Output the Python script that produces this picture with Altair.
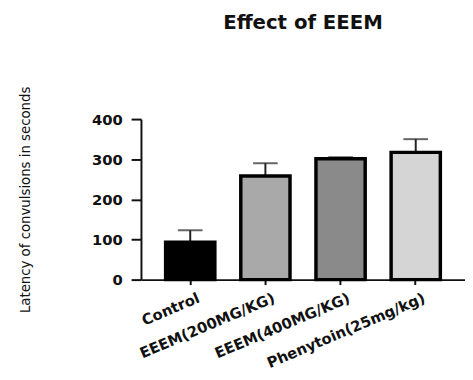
import altair as alt
import pandas as pd

categories = ["Control", "EEEM(200MG/KG)", "EEEM(400MG/KG)", "Phenytoin(25mg/kg)"]
means = [93, 258, 301, 317]
upper = [123, 290, 305, 350]
fills = ["#000000", "#a9a9a9", "#8a8a8a", "#d5d5d5"]

df = pd.DataFrame({"cat": categories, "mean": means, "upper": upper, "fill": fills})

x = alt.X("cat:N", sort=categories, title=None,
          scale=alt.Scale(paddingInner=0.345, paddingOuter=0.328),
          axis=alt.Axis(labelAngle=-23, labelAlign="right", labelBaseline="top",
                        labelFont="DejaVu Sans", labelFontWeight="bold", labelFontSize=15,
                        labelColor="#111", tickSize=5, tickWidth=2, tickColor="#111",
                        domainColor="#111", domainWidth=2, labelPadding=6, labelOffset=6))
y = alt.Y("mean:Q", title="Latency of convulsions in seconds",
          scale=alt.Scale(domain=[0, 400], nice=False),
          axis=alt.Axis(values=[0, 100, 200, 300, 400], grid=False,
                        labelFont="DejaVu Sans", labelFontWeight="bold", labelFontSize=15,
                        labelColor="#111", tickSize=10, tickWidth=2, tickColor="#111",
                        domainColor="#111", domainWidth=2, labelPadding=9,
                        titleFont="DejaVu Sans Condensed, Liberation Sans, sans-serif",
                        titleFontSize=15, titleFontWeight="normal", titleColor="#111",
                        titleX=-110, titleY=81.5))

err = alt.Chart(df).mark_rule(color="#222", strokeWidth=2).encode(
    x=x, y=y, y2="upper:Q")
cap = alt.Chart(df).mark_tick(color="#222", thickness=2, size=25, orient="horizontal").encode(
    x=x, y=alt.Y("upper:Q"))
bars = alt.Chart(df).mark_bar(stroke="#000", strokeWidth=3.5).encode(
    x=x, y=y, fill=alt.Fill("fill:N", scale=None))

chart = alt.layer(err, cap, bars).properties(
    width=329, height=163,
    title=alt.TitleParams("Effect of EEEM", font="DejaVu Sans", fontSize=20,
                          fontWeight="bold", color="#111", offset=54, anchor="middle"),
    autosize=alt.AutoSizeParams(type="none"),
    padding={"left": 135, "top": 110, "right": 0, "bottom": 91},
).configure_view(stroke=None)

chart.save("out.html", embed_options={"renderer": "svg", "actions": False})
